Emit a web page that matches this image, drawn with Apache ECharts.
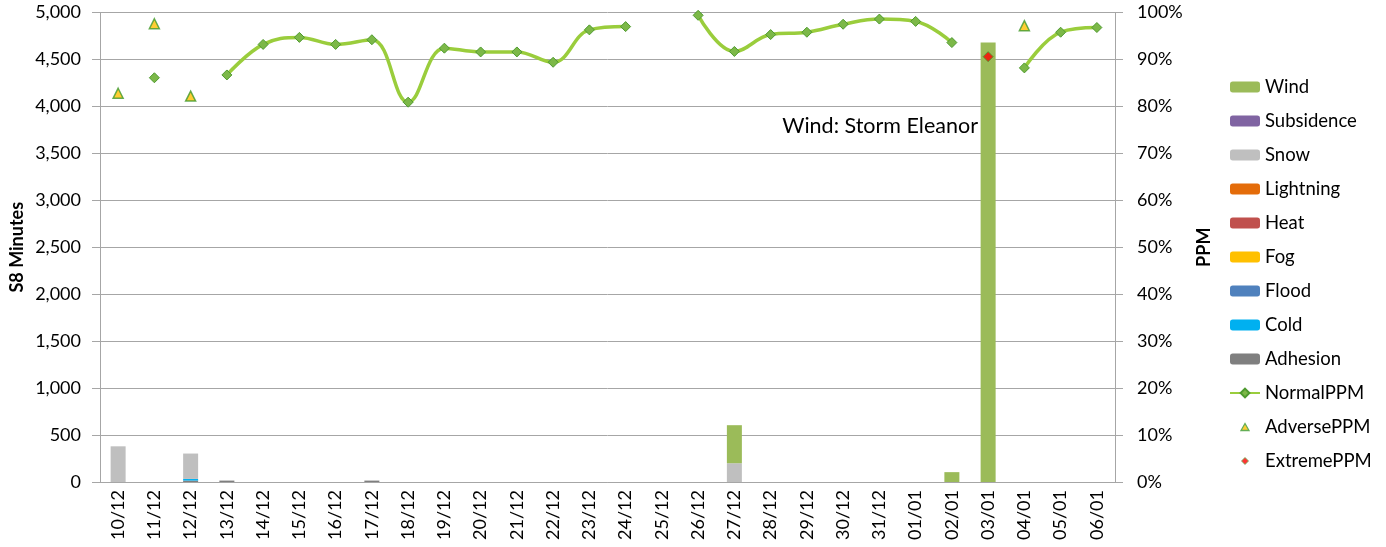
<!DOCTYPE html>
<html>
<head>
<meta charset="utf-8">
<script src="https://cdn.jsdelivr.net/npm/echarts@6/dist/echarts.min.js"></script>
<style>
  html, body { margin: 0; padding: 0; background: #fff; }
  #chart { width: 1386px; height: 547px; }
</style>
</head>
<body>
<div id="chart"></div>
<script>
// categories (day/month)
const days = ['10/12', '11/12', '12/12', '13/12', '14/12', '15/12', '16/12', '17/12', '18/12', '19/12',
  '20/12', '21/12', '22/12', '23/12', '24/12', '25/12', '26/12', '27/12', '28/12', '29/12',
  '30/12', '31/12', '01/01', '02/01', '03/01', '04/01', '05/01', '06/01']

// S8 minutes by cause
const adhesion   = [0, 0, 15, 15, 0, 0, 0, 15, 0, 0, 0, 0, 0, 0, 0, 0, 0, 0, 0, 0, 0, 0, 0, 0, 0, 0, 0, 0]
const cold       = [0, 0, 18, 0, 0, 0, 0, 0, 0, 0, 0, 0, 0, 0, 0, 0, 0, 0, 0, 0, 0, 0, 0, 0, 0, 0, 0, 0]
const flood      = [0, 0, 0, 0, 0, 0, 0, 0, 0, 0, 0, 0, 0, 0, 0, 0, 0, 0, 0, 0, 0, 0, 0, 0, 0, 0, 0, 0]
const fog        = [0, 0, 0, 0, 0, 0, 0, 0, 0, 0, 0, 0, 0, 0, 0, 0, 0, 0, 0, 0, 0, 0, 0, 0, 0, 0, 0, 0]
const heat       = [0, 0, 0, 0, 0, 0, 0, 0, 0, 0, 0, 0, 0, 0, 0, 0, 0, 0, 0, 0, 0, 0, 0, 0, 0, 0, 0, 0]
const lightning  = [0, 0, 0, 0, 0, 0, 0, 0, 0, 0, 0, 0, 0, 0, 0, 0, 0, 0, 0, 0, 0, 0, 0, 0, 0, 0, 0, 0]
const snow       = [380, 0, 270, 0, 0, 0, 0, 0, 0, 0, 0, 0, 0, 0, 0, 0, 0, 200, 0, 0, 0, 0, 0, 0, 0, 0, 0, 0]
const subsidence = [0, 0, 0, 0, 0, 0, 0, 0, 0, 0, 0, 0, 0, 0, 0, 0, 0, 0, 0, 0, 0, 0, 0, 0, 0, 0, 0, 0]
const wind       = [0, 0, 0, 0, 0, 0, 0, 0, 0, 0, 0, 0, 0, 0, 0, 0, 0, 405, 0, 0, 0, 0, 0, 105, 4680, 0, 0, 0]

// PPM (%)
const normalPPM = [null, 86.1, null, 86.7, 93.2, 94.7, 93.2, 94.2, 80.9, 92.4, 91.6, 91.6, 89.4, 96.3,
  97.0, null, 99.4, 91.7, 95.3, 95.8, 97.5, 98.6, 98.1, 93.6, null, 88.2, 95.8, 96.8]
const adversePPM = [82.8, 97.6, 82.2, null, null, null, null, null, null, null, null, null, null, null,
  null, null, null, null, null, null, null, null, null, null, null, 97.2, null, null]
const extremePPM = [null, null, null, null, null, null, null, null, null, null, null, null, null, null,
  null, null, null, null, null, null, null, null, null, null, 90.6, null, null, null]

const leftTicks = { min: 0, max: 5000, interval: 500 }
const rightTicks = { min: 0, max: 100, interval: 10 }

const font = 'Lato, "Open Sans", sans-serif'
const gridGrey = '#a6a6a6'

// small marker centred in a 30x11 legend box
function svgIcon(shape) {
  const svg = '<svg xmlns="http://www.w3.org/2000/svg" width="30" height="11" viewBox="0 0 30 11">' + shape + '</svg>'
  return 'image://data:image/svg+xml;charset=utf-8,' + encodeURIComponent(svg)
}
const adverseIcon = svgIcon('<polygon points="15,2 19,9 11,9" fill="#ffc000" stroke="#3e9a2c" stroke-width="1.3"/>')
const extremeIcon = svgIcon('<polygon points="15,2 18.5,5.5 15,9 11.5,5.5" fill="#ff0000" stroke="#3e9a2c" stroke-width="0.8"/>')

function barSeries(name, data, color) {
  return {
    name: name,
    type: 'bar',
    stack: 's8',
    data: data,
    barWidth: 15,
    itemStyle: { color: color },
    yAxisIndex: 0,
  }
}

const option = {
  animation: false,
  textStyle: { fontFamily: font, color: '#000' },
  grid: { left: 99, right: 271, top: 12.5, bottom: 65 },
  legend: {
    orient: 'vertical',
    left: 1224,
    top: 72,
    itemWidth: 30,
    itemHeight: 11,
    itemGap: 14,
    textStyle: { fontSize: 18.5, fontFamily: font, color: '#000', lineHeight: 20 },
    data: ['Wind', 'Subsidence', 'Snow', 'Lightning', 'Heat', 'Fog', 'Flood', 'Cold', 'Adhesion',
      'NormalPPM',
      { name: 'AdversePPM', icon: adverseIcon },
      { name: 'ExtremePPM', icon: extremeIcon }],
  },
  xAxis: {
    type: 'category',
    data: days,
    axisLine: { lineStyle: { color: gridGrey } },
    axisTick: { length: 6, lineStyle: { color: gridGrey } },
    axisLabel: { rotate: 90, fontSize: 18, color: '#000', margin: 8 },
  },
  yAxis: [
    {
      type: 'value',
      min: leftTicks.min,
      max: leftTicks.max,
      interval: leftTicks.interval,
      name: 'S8 Minutes',
      nameLocation: 'middle',
      nameGap: 74,
      nameMoveOverlap: false,
      nameTextStyle: { fontSize: 18, fontWeight: 'bold', color: '#000' },
      axisLine: { show: true, lineStyle: { color: gridGrey } },
      axisTick: { show: true, length: 8, lineStyle: { color: gridGrey } },
      axisLabel: {
        fontSize: 18,
        color: '#000',
        margin: 19,
        formatter: (v) => v.toLocaleString('en-GB'),
      },
      splitLine: { lineStyle: { color: gridGrey } },
    },
    {
      type: 'value',
      min: rightTicks.min,
      max: rightTicks.max,
      interval: rightTicks.interval,
      name: 'PPM',
      nameLocation: 'middle',
      nameGap: 80,
      nameRotate: 90,
      nameTextStyle: { fontSize: 18, fontWeight: 'bold', color: '#000' },
      axisLine: { show: true, lineStyle: { color: gridGrey } },
      axisTick: { show: true, length: 8, lineStyle: { color: gridGrey } },
      axisLabel: { fontSize: 18, color: '#000', margin: 22, formatter: '{value}%' },
      splitLine: { show: false },
    },
  ],
  graphic: [
    {
      type: 'text',
      right: 1386 - 978,
      top: 115,
      style: { text: 'Wind: Storm Eleanor', font: '21.5px ' + font, fill: '#000' },
    },
  ],
  series: [
    barSeries('Adhesion', adhesion, '#7f7f7f'),
    barSeries('Cold', cold, '#00b0f0'),
    barSeries('Flood', flood, '#4f81bd'),
    barSeries('Fog', fog, '#ffc000'),
    barSeries('Heat', heat, '#c0504d'),
    barSeries('Lightning', lightning, '#e46c0a'),
    barSeries('Snow', snow, '#bfbfbf'),
    barSeries('Subsidence', subsidence, '#8064a2'),
    barSeries('Wind', wind, '#9bbb59'),
    {
      name: 'NormalPPM',
      type: 'line',
      yAxisIndex: 1,
      data: normalPPM,
      smooth: 0.4,
      connectNulls: false,
      symbol: 'diamond',
      symbolSize: 10,
      showAllSymbol: true,
      lineStyle: { color: '#9acd3c', width: 3.5 },
      itemStyle: { color: '#7cb848', borderColor: '#4e9a2f', borderWidth: 1 },
      z: 5,
    },
    {
      name: 'AdversePPM',
      type: 'scatter',
      yAxisIndex: 1,
      data: adversePPM,
      symbol: 'triangle',
      symbolSize: 10,
      itemStyle: { color: '#ffc000', borderColor: '#3e9a2c', borderWidth: 1.5 },
      z: 6,
    },
    {
      name: 'ExtremePPM',
      type: 'scatter',
      yAxisIndex: 1,
      data: extremePPM,
      symbol: 'diamond',
      symbolSize: 10,
      itemStyle: { color: '#ff0000', borderColor: '#3e9a2c', borderWidth: 1 },
      z: 6,
    },
  ],
}

const myChart = echarts.init(document.getElementById('chart'))
myChart.setOption(option)
</script>
</body>
</html>
